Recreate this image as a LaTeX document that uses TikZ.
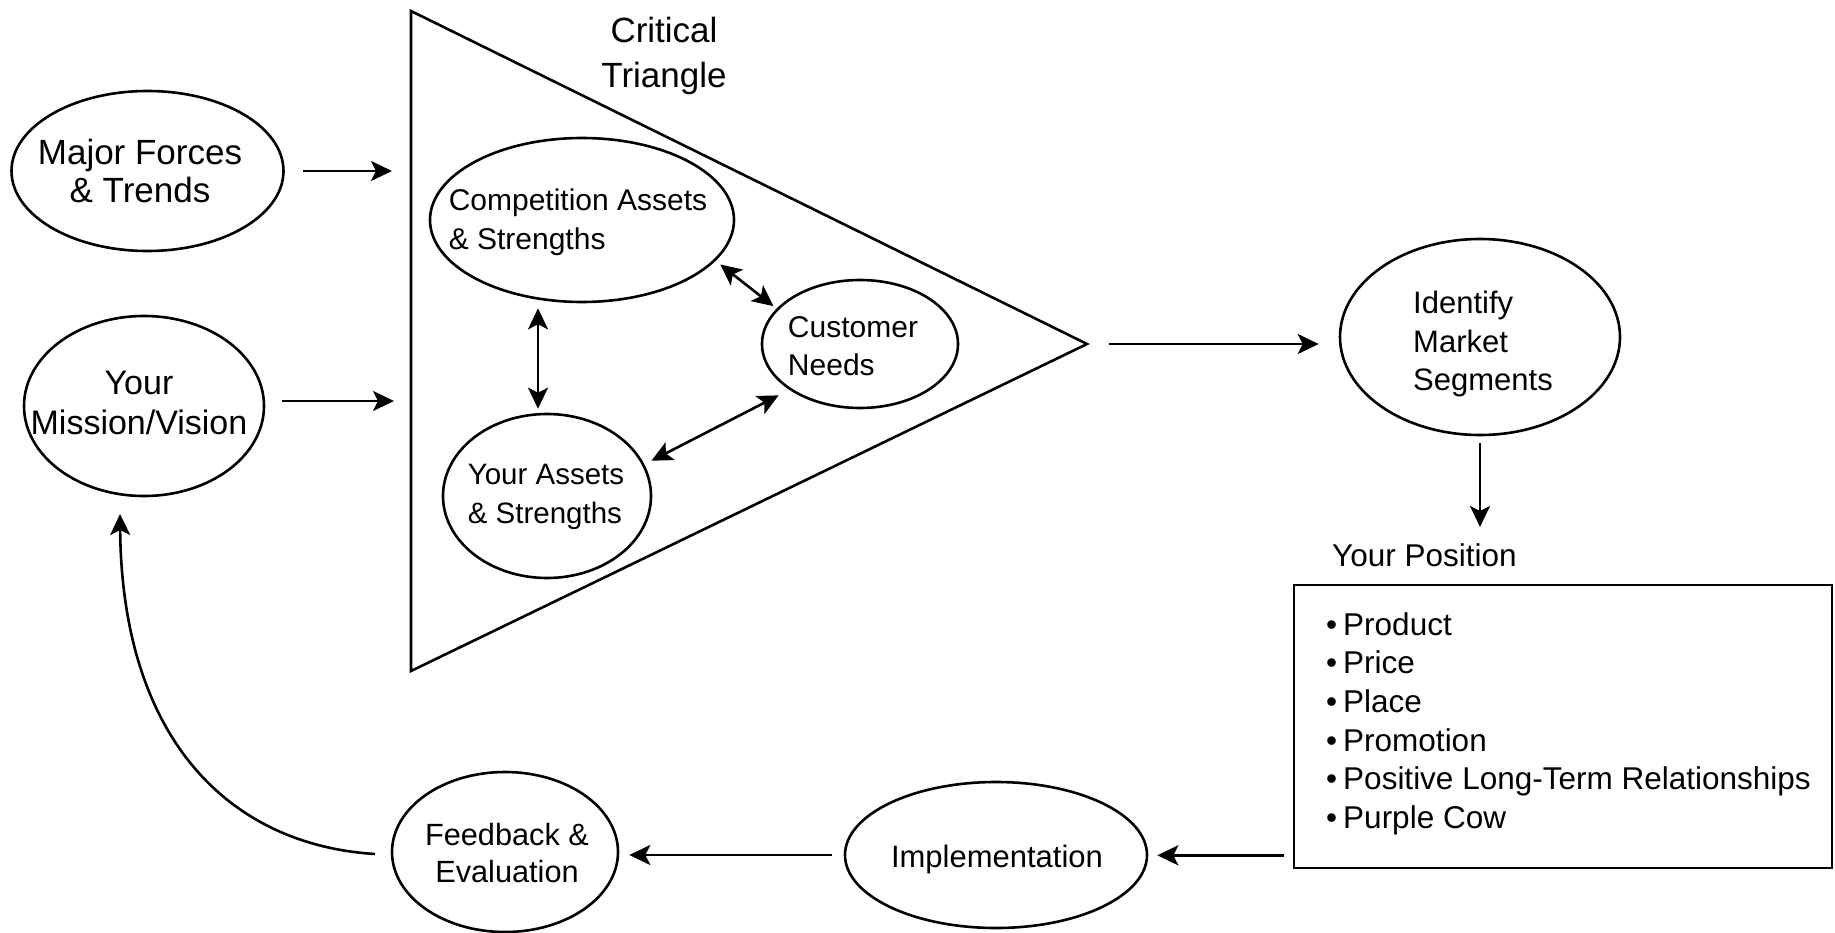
\documentclass[tikz,border=0pt]{standalone}
\usepackage{fontspec}
\setmainfont{Liberation Sans}
\usetikzlibrary{shapes.geometric,arrows.meta}
\tikzset{
  ell/.style={ellipse, draw, line width=2.6pt, inner sep=0pt},
  txt/.style={inner sep=0pt, align=center},
  tipA/.tip={Stealth[length=21pt,width=20pt,inset=5pt]},
  arr/.style={-tipA, line width=2.6pt},
  darr/.style={tipA-tipA, line width=2.6pt},
}
\newcommand{\fs}[2]{\fontsize{#1pt}{#2pt}\selectfont}
\begin{document}
\begin{tikzpicture}[x=1pt,y=-1pt]
\fill[white] (0,0) rectangle (1835,933);
\useasboundingbox (0,0) rectangle (1835,933);

% left ellipses
\node[ell, minimum width=272pt, minimum height=160pt] (mf) at (147.5,171) {};
\node[txt, font=\fs{35}{38.6}] (mfT) at (140,171) {Major Forces\\\& Trends};
\node[ell, minimum width=240pt, minimum height=180pt] (mv) at (144,406) {};
\node[txt, font=\fs{34}{39.8}] (mvT) at (139,403) {Your\\Mission/Vision};

% critical triangle
\coordinate (ta) at (411,11);
\coordinate (tb) at (411,671);
\coordinate (tip) at (1087,344);
\draw[line width=2.6pt, line join=miter] (ta) -- (tb) -- (tip) -- cycle;
\node[txt, font=\fs{35}{44.5}] (crit) at (664,56) {Critical\\Triangle};
\coordinate (tl1) at (411,171);
\coordinate (tl2) at (411,401);

\node[ell, minimum width=304pt, minimum height=164pt] (comp) at (582,220) {};
\node[txt, align=left, font=\fs{30}{38.6}] (compT) at (578,222) {Competition Assets\\\& Strengths};
\node[ell, minimum width=196pt, minimum height=128pt] (cust) at (860,344) {};
\node[txt, align=left, font=\fs{30}{37.5}] (custT) at (853,346) {Customer\\Needs};
\node[ell, minimum width=208pt, minimum height=164pt] (ya) at (547,496) {};
\node[txt, align=left, font=\fs{29.5}{38.6}] (yaT) at (546,497) {Your Assets\\\& Strengths};

% right side
\node[ell, minimum width=280pt, minimum height=196pt] (ims) at (1480,337) {};
\node[txt, align=left, font=\fs{31}{38.6}] (imsT) at (1483,344) {Identify\\Market\\Segments};
\node[txt, anchor=base west, font=\fs{31.5}{38}] (pos) at (1332,566) {Your Position};
\node[draw, line width=2.6pt, minimum width=538pt, minimum height=283pt, inner sep=0pt] (box) at (1563,726.5) {};
\foreach \i/\y/\t in {1/635/Product, 2/673.5/Price, 3/712/Place, 4/751/Promotion, 5/789.5/Positive Long-Term Relationships, 6/828/Purple Cow}
  \node[txt, anchor=base west, font=\fs{31.5}{38}] (item\i) at (1326,\y) {\textbullet\kern6pt \t};

% bottom
\node[ell, minimum width=302pt, minimum height=146pt] (impl) at (996,855) {};
\node[txt, font=\fs{31}{38}] (implT) at (997,859) {Implementation};
\node[ell, minimum width=226pt, minimum height=160pt] (fb) at (505,852) {};
\node[txt, font=\fs{30.7}{37.5}] (fbT) at (507,853) {Feedback \&\\Evaluation};

% connectors
\draw[arr, shorten <=18pt, shorten >=19pt] (mf.east) -- (tl1);
\draw[arr, shorten <=17pt, shorten >=17pt] (mv.east |- tl2) -- (tl2);
\draw[darr, shorten <=5pt, shorten >=4pt] ([xshift=-44pt]comp.south) -- ([xshift=-9pt]ya.north);
\draw[darr, shorten <=6pt, shorten >=4pt] (comp.-17) -- (cust.157);
\draw[darr, shorten <=8pt, shorten >=12pt] (ya.18) -- (cust.213);
\draw[arr, shorten <=22pt, shorten >=20pt] (tip) -- (tip -| ims.west);
\draw[arr, shorten <=7pt, shorten >=16pt] (ims.south) -- (ims.south |- pos.north);
\draw[arr, shorten <=9pt, shorten >=9pt] ([yshift=14pt]box.south west) -- ([yshift=14pt]box.south west -| impl.east);
\draw[arr, shorten <=12pt, shorten >=10pt] (impl.west) -- (impl.west -| fb.east);
\coordinate (cstart) at (375,854);
\coordinate (cend) at (120,514);
\draw[arr] (cstart) .. controls (230,845) and (122,740) .. (cend);
\end{tikzpicture}
\end{document}
